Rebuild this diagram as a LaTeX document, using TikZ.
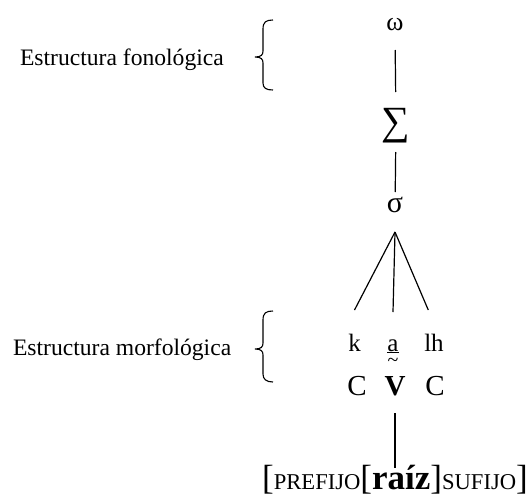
\documentclass[tikz,border=0pt]{standalone}
\usepackage{fontspec}
\setmainfont{Liberation Serif}
\newcommand{\fsz}[1]{\fontsize{#1}{#1}\selectfont}
\begin{document}
\begin{tikzpicture}[x=1pt,y=-1pt,line width=1.2pt,
  every node/.style={inner sep=0pt,outer sep=0pt},
  lbl/.style={font=\fsz{23.6},anchor=base west},
  sym/.style={anchor=base},
  seg/.style={font=\fsz{25},anchor=base,text depth=0pt},
  cv/.style={font=\fsz{29},anchor=base,text height=20pt,text depth=18pt},
  brc/.style={line width=1.1pt}]
\useasboundingbox (0,0) rectangle (529,498);
% labels
\node[lbl] (fon) at (20,65) {Estructura fonológica};
\node[lbl] (mor) at (13,355) {Estructura morfológica};
% braces
\draw[brc] (273,20) .. controls (266,20) and (263,22) .. (263,29) -- (263,51)
  .. controls (263,55) and (261,57) .. (255,57) .. controls (261,57) and (263,59) .. (263,63)
  -- (263,83) .. controls (263,88) and (266,90) .. (273,90);
\draw[brc] (273,311) .. controls (266,311) and (263,313) .. (263,320) -- (263,343)
  .. controls (263,347) and (261,349) .. (255,349) .. controls (261,349) and (263,351) .. (263,355)
  -- (263,374) .. controls (263,379) and (266,382) .. (273,382);
% prosodic hierarchy
\node[sym,font=\fsz{26},text height=12pt,text depth=20pt] (w) at (395,30) {ω};
\node[sym,font=\fsz{40},text height=42pt,text depth=18pt] (S) at (396,134) {∑};
\node[sym,font=\fsz{30},text height=20pt,text depth=20pt] (s) at (395,212) {σ};
% segments
\node[seg,text height=41pt] (k) at (354.5,351) {k};
\node[seg,text height=39pt] (a) at (393,351)
  {\ooalign{\underline{a}\cr\hidewidth\raisebox{-15.5pt}{\fsz{20}\textasciitilde}\hidewidth\cr}};
\node[seg,text height=41pt] (lh) at (434,351) {lh};
% CV tier
\node[cv] (c1) at (357,395) {C};
\node[cv,font=\fsz{29}\bfseries] (V) at (395,395) {V};
\node[cv] (c2) at (435,395) {C};
% morphology
\node[anchor=base,text height=21pt,text depth=7pt] (m) at (395,489)
  {{\fsz{35}[}{\fsz{22.6}PREFIJO}{\fsz{35}[\textbf{raíz}]}{\fsz{22.6}SUFIJO}{\fsz{35}]}};
% connectors
\draw (w) -- (S);
\draw (S) -- (s);
\draw (s.south) -- (k.north);
\draw (s.south) -- (a.north);
\draw (s.south) -- ([xshift=4pt]lh.north west);
\draw (V) -- (m);
\end{tikzpicture}
\end{document}
